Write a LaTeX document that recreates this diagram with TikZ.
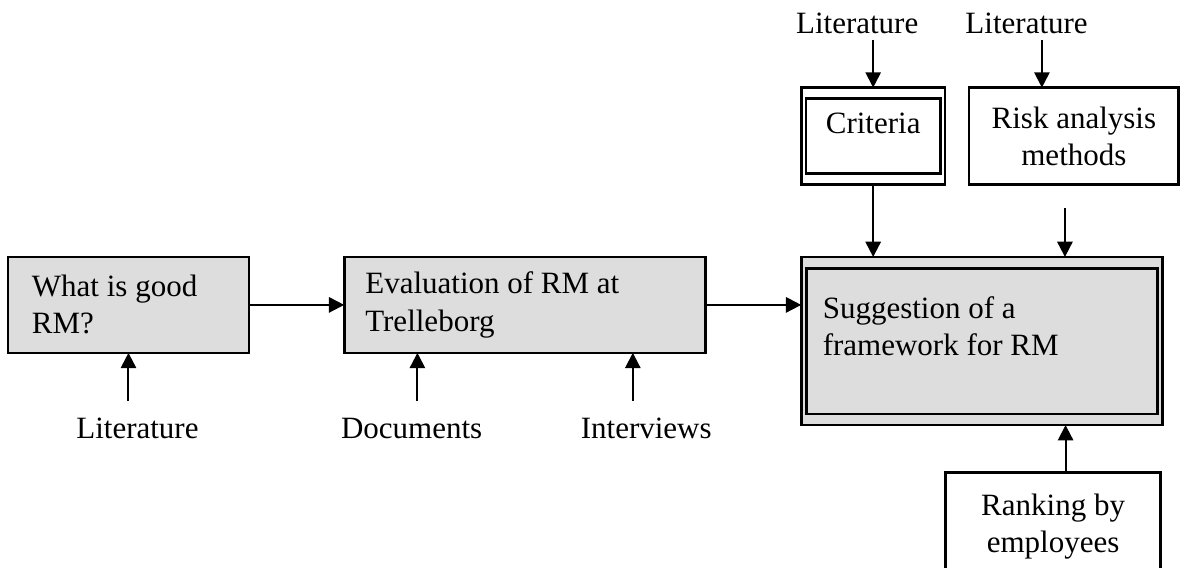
\documentclass[tikz,border=0pt]{standalone}
\usepackage{fontspec}
\setmainfont{Liberation Serif}
\usepackage{xcolor}
\usetikzlibrary{arrows.meta, positioning}
\definecolor{boxgray}{RGB}{221,221,221}

\begin{document}
\begin{tikzpicture}[
    font=\fontsize{13.8}{16.5}\selectfont,
    box/.style={rectangle, draw, line width=1.2pt, inner sep=0pt, outer sep=0pt},
    graybox/.style={box, fill=boxgray, minimum height=1.50cm, align=flush left},
    whitebox/.style={box, fill=white, align=center},
    source/.style={inner sep=2.5pt, anchor=base},
    arr/.style={-{Triangle[length=6.8pt,width=6.8pt]}, line width=0.9pt}
]
\useasboundingbox (0,0) rectangle (18.46,-8.885);

% main row
\node[graybox, minimum width=3.77cm, text width=3.02cm] (good) at (2.01,-4.77) {What is good\\RM?};
\node[graybox, minimum width=5.65cm, text width=4.99cm, right=1.49cm of good] (eval) {Evaluation of RM at\\Trelleborg};
\node[box, fill=boxgray, minimum width=5.65cm, minimum height=2.63cm, right=1.5cm of eval.north east, anchor=north west] (sugg) {};
\node[box, minimum width=5.49cm, minimum height=2.28cm] (sugin) at (sugg) {};
\node[anchor=north west, align=left, inner sep=0pt] (sugtext) at ([xshift=0.25cm, yshift=-0.44cm]sugin.north west) {Suggestion of a\\framework for RM};

% inputs from above
\node[box, fill=white, minimum width=2.25cm, minimum height=1.52cm, above=1.13cm of sugg.north west, anchor=south west] (crit) {};
\node[box, minimum width=2.10cm, minimum height=1.17cm, text height=0.54cm, text depth=0.63cm] (critin) at (crit) {Criteria};
\node[whitebox, minimum width=3.28cm, minimum height=1.52cm, right=0.375cm of crit.north east, anchor=north west] (risk) {Risk analysis\\methods};
\node[whitebox, minimum width=3.36cm, minimum height=1.69cm, below=0.74cm of sugg.south east, anchor=north east, xshift=-0.03cm] (rank) {Ranking by\\employees};

% sources
\node[source] (littop1) at (13.41,-0.53) {Literature};
\node[source] (littop2) at (16.06,-0.53) {Literature};
\node[source] (litbot) at (2.15,-6.86) {Literature};
\node[source] (docs) at (6.44,-6.86) {Documents};
\node[source] (interv) at (10.11,-6.86) {Interviews};
\coordinate (riskout) at (16.66,-3.25);

% connectors
\draw[arr] (good.east) -- (eval.west);
\draw[arr] (eval.east) -- (eval.east -| sugg.west);
\draw[arr] (crit.south) -- (crit.south |- sugg.north);
\draw[arr] (riskout) -- (riskout |- sugg.north);
\draw[arr] ([xshift=0.195cm]rank.north) -- ([xshift=0.195cm]rank.north |- sugg.south);
\draw[arr] (littop1.south -| crit.north) -- (crit.north);
\draw[arr] ([xshift=0.24cm]littop2.south) -- ([xshift=0.24cm]littop2.south |- risk.north);
\draw[arr] ([yshift=0.17cm]litbot.north -| good.south) -- (good.south);
\draw[arr] ([xshift=0.09cm, yshift=0.17cm]docs.north) -- ([xshift=0.09cm]docs.north |- eval.south);
\draw[arr] ([xshift=-0.21cm, yshift=0.17cm]interv.north) -- ([xshift=-0.21cm]interv.north |- eval.south);

\end{tikzpicture}
\end{document}
